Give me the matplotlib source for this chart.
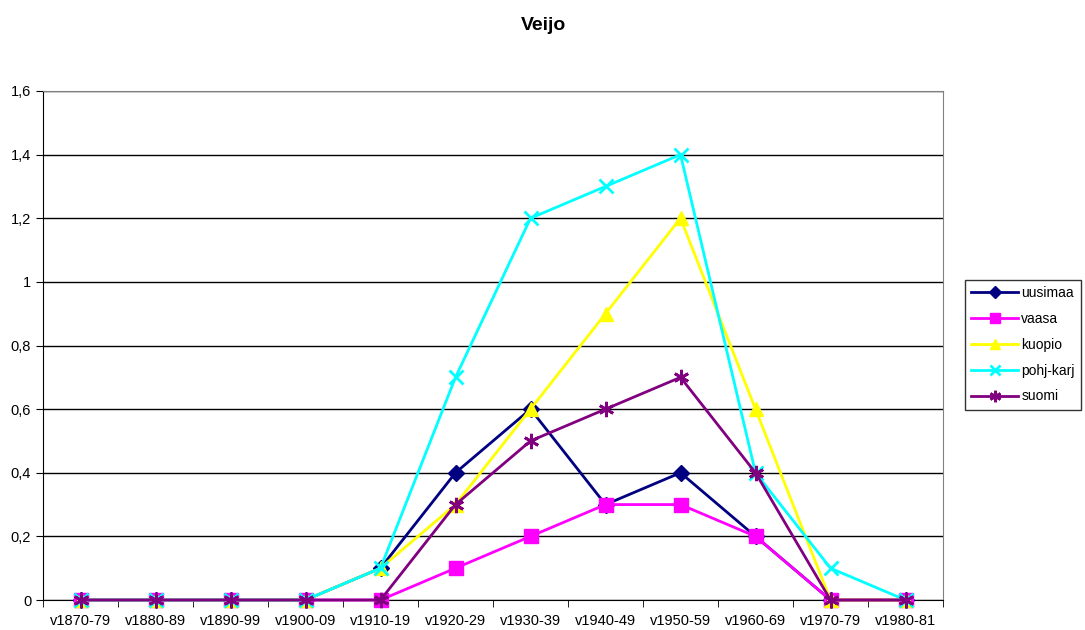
import matplotlib.pyplot as plt
import numpy as np

categories = ['v1870-79', 'v1880-89', 'v1890-99', 'v1900-09', 'v1910-19', 'v1920-29',
              'v1930-39', 'v1940-49', 'v1950-59', 'v1960-69', 'v1970-79', 'v1980-81']
uusimaa = [0, 0, 0, 0, 0.1, 0.4, 0.6, 0.3, 0.4, 0.2, 0, 0]
vaasa = [0, 0, 0, 0, 0, 0.1, 0.2, 0.3, 0.3, 0.2, 0, 0]
kuopio = [0, 0, 0, 0, 0.1, 0.3, 0.6, 0.9, 1.2, 0.6, 0, 0]
pohj_karj = [0, 0, 0, 0, 0.1, 0.7, 1.2, 1.3, 1.4, 0.4, 0.1, 0]
suomi = [0, 0, 0, 0, 0, 0.3, 0.5, 0.6, 0.7, 0.4, 0, 0]
yticks = [0, 0.2, 0.4, 0.6, 0.8, 1.0, 1.2, 1.4, 1.6]
ylabels = ['0', '0,2', '0,4', '0,6', '0,8', '1', '1,2', '1,4', '1,6']

plt.rcParams['font.family'] = ['Liberation Sans', 'DejaVu Sans']

fig = plt.figure(figsize=(10.85, 6.3), dpi=100)
ax = fig.add_axes([43 / 1085, 30 / 630, 900 / 1085, 509 / 630])

x = np.arange(len(categories))
series = [
    ('uusimaa', uusimaa, '#000080', 'D', 8),
    ('vaasa', vaasa, '#FF00FF', 's', 10),
    ('kuopio', kuopio, '#FFFF00', '^', 10),
    ('pohj-karj', pohj_karj, '#00FFFF', 'x', 10),
    ('suomi', suomi, '#800080', (6, 2, 0), 11),
]
for name, vals, color, marker, ms in series:
    ax.plot(x, vals, color=color, marker=marker, markersize=ms, linewidth=2,
            markeredgewidth=2 if marker in ('x', (6, 2, 0)) else 1,
            markeredgecolor=color, label=name, clip_on=False, zorder=3)

ax.set_xlim(-0.5, len(categories) - 0.5)
ax.set_ylim(0, 1.6)
ax.set_yticks(yticks)
ax.set_yticklabels(ylabels, fontsize=10.5)
ax.set_xticks(x)
ax.set_xticklabels(categories, fontsize=10.5)
ax.tick_params(axis='x', length=0, pad=10)
ax.set_xticks(np.arange(-0.5, len(categories)), minor=True)
ax.tick_params(axis='x', which='minor', length=5, direction='out', color='black')
ax.tick_params(axis='y', length=5, direction='out')

ax.grid(axis='y', color='black', linewidth=1)
ax.set_axisbelow(True)
ax.spines['left'].set_color('black')
ax.spines['bottom'].set_color('black')
ax.spines['top'].set_color('#808080')
ax.spines['right'].set_color('#808080')

fig.text(543 / 1085, 1 - 25 / 630, 'Veijo', fontsize=14, fontweight='bold',
         ha='center', va='center')

leg = ax.legend(loc='upper left', bbox_to_anchor=(965 / 1085, 1 - 280 / 630),
                bbox_transform=fig.transFigure, frameon=True, fancybox=False,
                edgecolor='black', fontsize=10, borderpad=0.45, labelspacing=0.85,
                handlelength=3.4, handletextpad=0.2, borderaxespad=0,
                markerscale=0.75)
leg.get_frame().set_linewidth(1)

plt.savefig('out.png', dpi=100)
